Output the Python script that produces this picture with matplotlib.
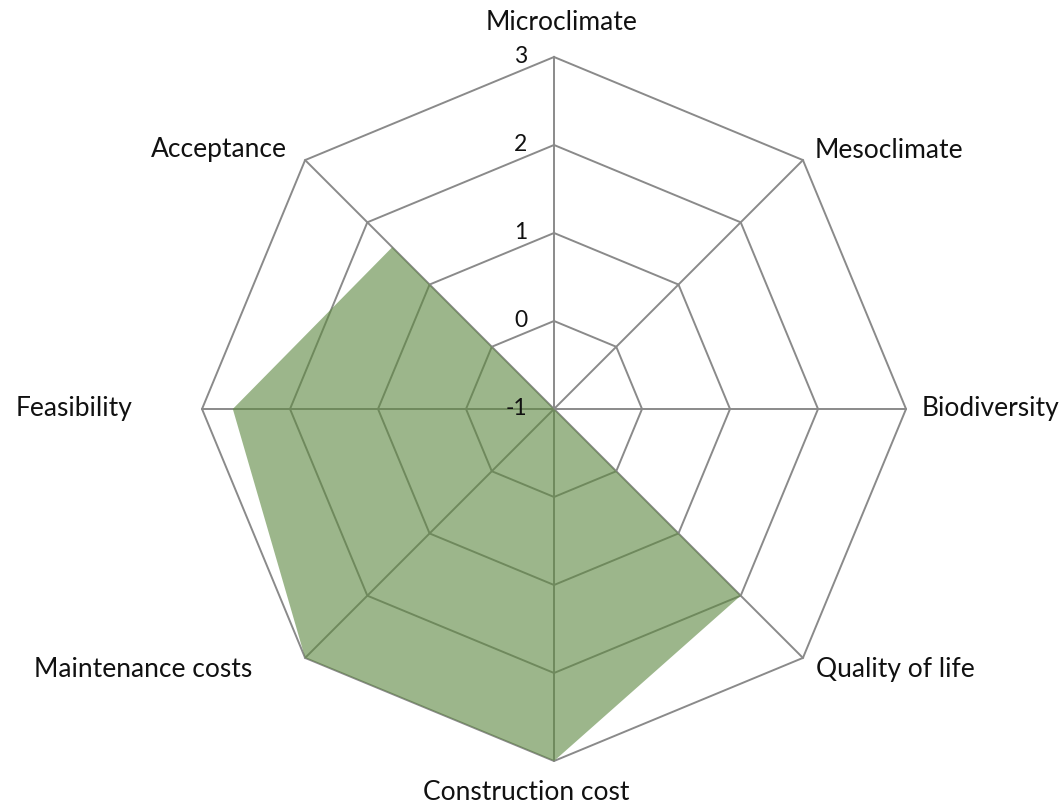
import numpy as np
import matplotlib
matplotlib.use('Agg')
import matplotlib.pyplot as plt

# ==========================================
# DATA
# ==========================================
categories = ['Microclimate', 'Mesoclimate', 'Biodiversity', 'Quality of life',
              'Construction cost', 'Maintenance costs', 'Feasibility', 'Acceptance']
values = [-1, -1, -1, 2, 3, 3, 2.65, 1.6]
ring_levels = [0, 1, 2, 3]
tick_labels = ['-1', '0', '1', '2', '3']
tick_values = [-1, 0, 1, 2, 3]

# label offsets (pixels) and alignment, like Excel puts them
label_style = [
    ((8, 34), 'center'),
    ((12, 10), 'left'),
    ((16, 0), 'left'),
    ((13, -12), 'left'),
    ((-28, -32), 'center'),
    ((-53, -12), 'right'),
    ((-70, 0), 'right'),
    ((-18, 11), 'right'),
]

plt.rcParams['font.family'] = ['Lato', 'DejaVu Sans']
GRID_COLOR = '#8a8a8a'
FILL_COLOR = (94/255, 137/255, 65/255)
TEXT_COLOR = '#111111'

fig = plt.figure(figsize=(10.64, 8.08), dpi=100)
ax = fig.add_axes([0.18985, 0.05817, 0.6617, 0.8713], projection='polar')
ax.set_theta_zero_location('N')
ax.set_theta_direction(-1)
ax.set_ylim(-1, 3)
ax.grid(False)
ax.set_xticks([])
ax.set_yticks([])
ax.spines['polar'].set_visible(False)

n = len(categories)
theta = np.linspace(0, 2 * np.pi, n, endpoint=False)
theta_closed = np.append(theta, theta[0])

# grid octagons
for lvl in ring_levels:
    ax.plot(theta_closed, [lvl] * (n + 1), color=GRID_COLOR, lw=1.4, zorder=2, clip_on=False)

# spokes
for t in theta:
    ax.plot([t, t], [-1, 3], color=GRID_COLOR, lw=1.4, zorder=2, clip_on=False)

# data area
vals_closed = values + values[:1]
ax.fill(theta_closed, vals_closed, color=FILL_COLOR, alpha=0.61, lw=0, zorder=3, clip_on=False)

# radial tick labels
for tv, tl in zip(tick_values, tick_labels):
    ax.annotate(tl, xy=(0, tv), xytext=(-27, 0), textcoords='offset pixels',
                ha='right', va='center', fontsize=16.5, color=TEXT_COLOR, zorder=5)

# category labels
for t, cat, (off, ha) in zip(theta, categories, label_style):
    ax.annotate(cat, xy=(t, 3), xytext=off, textcoords='offset pixels',
                ha=ha, va='center', fontsize=19, color=TEXT_COLOR)

plt.savefig('out.png', dpi=100)
